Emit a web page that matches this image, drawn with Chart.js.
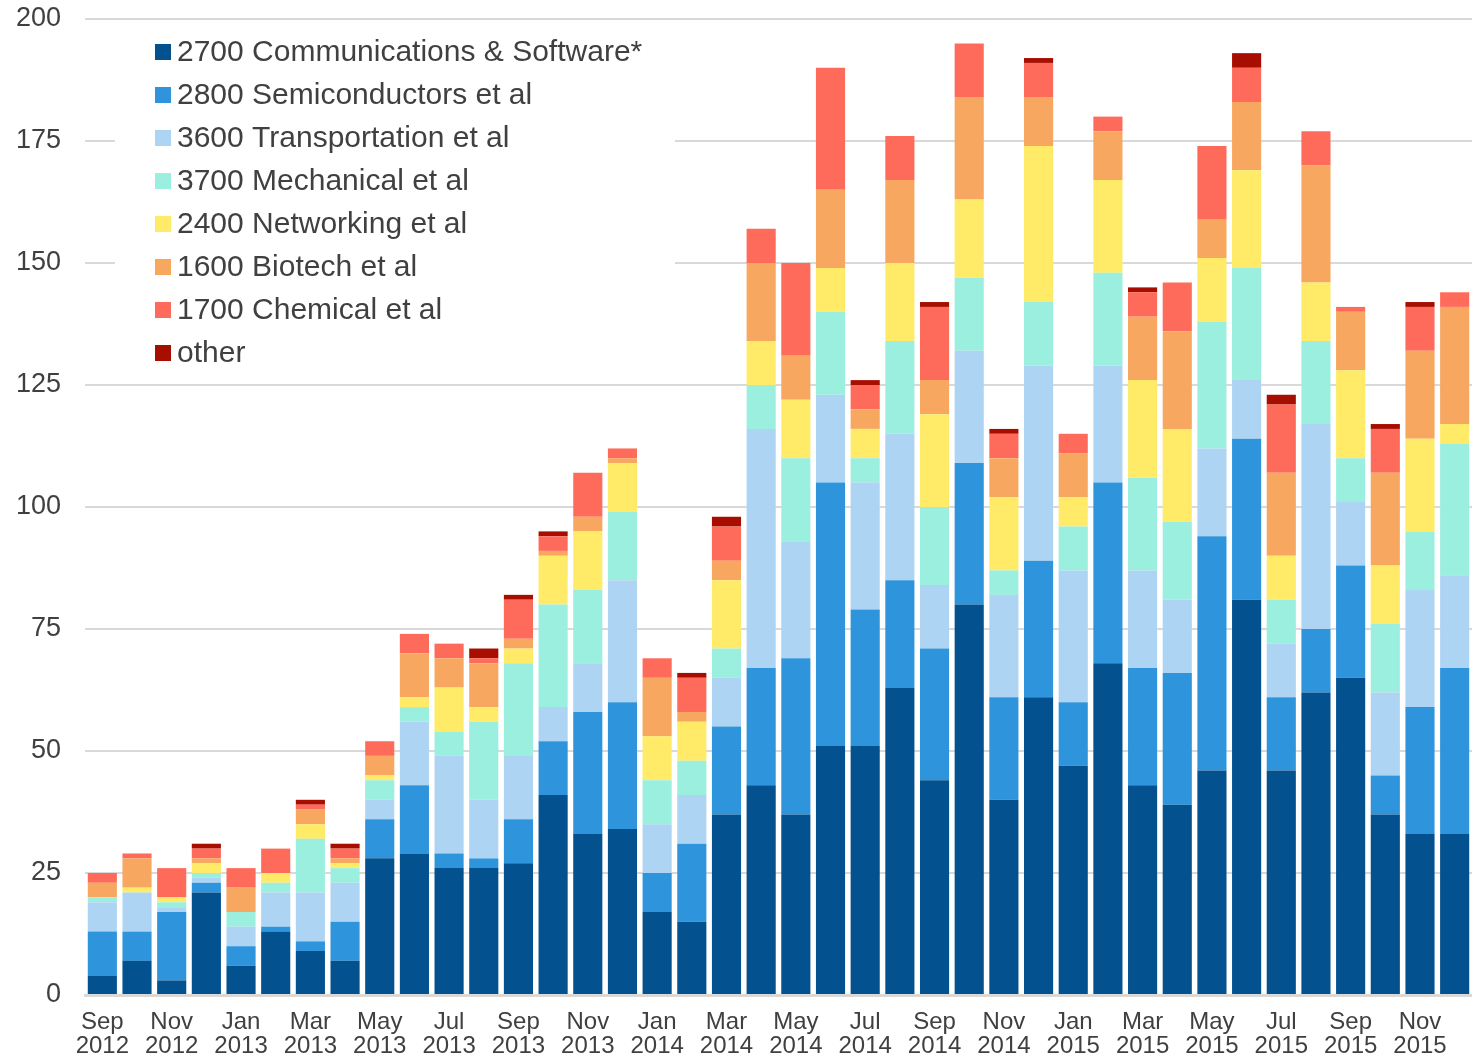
<!DOCTYPE html>
<html>
<head>
<meta charset="utf-8">
<title>Monthly counts by group</title>
<script src="https://cdn.jsdelivr.net/npm/chart.js@4.4.1/dist/chart.umd.min.js"></script>
<style>
  html, body { margin: 0; padding: 0; background: #fff; }
  #wrap { width: 1472px; height: 1055px; }
</style>
</head>
<body>
<div id="wrap"><canvas id="chart" width="1472" height="1055"></canvas></div>
<script>
// categories: one bar per month
const months = [
    'Sep 2012', 'Oct 2012', 'Nov 2012', 'Dec 2012',
    'Jan 2013', 'Feb 2013', 'Mar 2013', 'Apr 2013', 'May 2013', 'Jun 2013',
    'Jul 2013', 'Aug 2013', 'Sep 2013', 'Oct 2013', 'Nov 2013', 'Dec 2013',
    'Jan 2014', 'Feb 2014', 'Mar 2014', 'Apr 2014', 'May 2014', 'Jun 2014',
    'Jul 2014', 'Aug 2014', 'Sep 2014', 'Oct 2014', 'Nov 2014', 'Dec 2014',
    'Jan 2015', 'Feb 2015', 'Mar 2015', 'Apr 2015', 'May 2015', 'Jun 2015',
    'Jul 2015', 'Aug 2015', 'Sep 2015', 'Oct 2015', 'Nov 2015', 'Dec 2015'
];

// series values
const comm      = [4, 7, 3, 21, 6, 13, 9, 7, 28, 29, 26, 26, 27, 41, 33, 34, 17, 15, 37, 43, 37, 51, 51, 63, 44, 80, 40, 61, 47, 68, 43, 39, 46, 81, 46, 62, 65, 37, 33, 33];
const semi      = [9, 6, 14, 2, 4, 1, 2, 8, 8, 14, 3, 2, 9, 11, 25, 26, 8, 16, 18, 24, 32, 54, 28, 22, 27, 29, 21, 28, 13, 37, 24, 27, 48, 33, 15, 13, 23, 8, 26, 34];
const transport = [6, 8, 1, 1, 4, 7, 10, 8, 4, 13, 20, 12, 13, 7, 10, 25, 10, 10, 10, 49, 24, 18, 26, 30, 13, 23, 21, 40, 27, 24, 20, 15, 18, 12, 11, 42, 13, 17, 24, 19];
const mech      = [1, 0, 1, 1, 3, 2, 11, 3, 4, 3, 5, 16, 19, 21, 15, 14, 9, 7, 6, 9, 17, 17, 5, 19, 16, 15, 5, 13, 9, 19, 19, 16, 26, 23, 9, 17, 9, 14, 12, 27];
const network   = [0, 1, 1, 2, 0, 2, 3, 1, 1, 2, 9, 3, 3, 10, 12, 10, 9, 8, 14, 9, 12, 9, 6, 16, 19, 16, 15, 32, 6, 19, 20, 19, 13, 20, 9, 12, 18, 12, 19, 4];
const biotech   = [3, 6, 0, 1, 5, 0, 3, 1, 4, 9, 6, 9, 2, 1, 3, 1, 12, 2, 4, 16, 9, 16, 4, 17, 7, 21, 8, 10, 9, 10, 13, 20, 8, 14, 17, 24, 12, 19, 18, 24];
const chemical  = [2, 1, 6, 2, 4, 5, 1, 2, 3, 4, 3, 1, 8, 3, 9, 2, 4, 7, 7, 7, 19, 25, 5, 9, 15, 11, 5, 7, 4, 3, 5, 10, 15, 7, 14, 7, 1, 9, 9, 3];
const other     = [0, 0, 0, 1, 0, 0, 1, 1, 0, 0, 0, 2, 1, 1, 0, 0, 0, 1, 2, 0, 0, 0, 1, 0, 1, 0, 1, 1, 0, 0, 1, 0, 0, 3, 2, 0, 0, 1, 1, 0];

const seriesNames = [
    '2700 Communications & Software*',
    '2800 Semiconductors et al',
    '3600 Transportation et al',
    '3700 Mechanical et al',
    '2400 Networking et al',
    '1600 Biotech et al',
    '1700 Chemical et al',
    'other'
];
const seriesValues = [comm, semi, transport, mech, network, biotech, chemical, other];
const seriesColors = ['#03518e', '#2e95dd', '#aed4f3', '#9befdf', '#ffeb67', '#f7a75f', '#ff6b5b', '#a70e00'];

// y axis ticks
const yMin = 0, yMax = 200, yStep = 25;

const FONT = '"Liberation Sans", Arial, sans-serif';
const TEXT = '#404040';
const GRID = '#d9d9d9';

// legend sits inside the plot, on a white box that hides the gridlines
const boxLegend = {
    id: 'boxLegend',
    afterDraw(chart) {
        const { ctx, chartArea } = chart;
        const left = chartArea.left;
        ctx.save();
        ctx.fillStyle = '#fff';
        ctx.fillRect(left + 30, 28, 560, 346);
        ctx.font = '30px ' + FONT;
        ctx.textBaseline = 'middle';
        ctx.textAlign = 'left';
        chart.data.datasets.forEach((ds, i) => {
            const y = 52 + i * 43;
            ctx.fillStyle = ds.backgroundColor;
            ctx.fillRect(left + 70, y - 8, 16, 16);
            ctx.fillStyle = TEXT;
            ctx.fillText(ds.label, left + 92, y + 1);
        });
        ctx.restore();
    }
};

Chart.defaults.font.family = FONT;
Chart.defaults.color = TEXT;

const ctx = document.getElementById('chart').getContext('2d');
new Chart(ctx, {
    type: 'bar',
    data: {
        labels: months,
        datasets: seriesNames.map((name, i) => ({
            label: name,
            data: seriesValues[i],
            backgroundColor: seriesColors[i],
            borderWidth: 0,
            barPercentage: 0.84,
            categoryPercentage: 1.0
        }))
    },
    options: {
        responsive: false,
        animation: false,
        layout: { padding: { top: 19, right: 0, bottom: 0, left: 0 } },
        plugins: {
            legend: { display: false },
            tooltip: { enabled: false }
        },
        scales: {
            x: {
                stacked: true,
                grid: { display: false },
                border: { color: GRID, width: 3 },
                ticks: {
                    autoSkip: false,
                    maxRotation: 0,
                    minRotation: 0,
                    padding: 7,
                    color: TEXT,
                    font: { size: 24, lineHeight: 1.0 },
                    callback: (value, index) => index % 2 === 0 ? months[index].split(' ') : ''
                },
                afterFit: (scale) => { scale.height = 60; }
            },
            y: {
                stacked: true,
                min: yMin,
                max: yMax,
                border: { display: false },
                grid: { color: GRID, lineWidth: 2, drawTicks: false },
                ticks: {
                    stepSize: yStep,
                    padding: 24,
                    color: TEXT,
                    font: { size: 27 }
                },
                afterFit: (scale) => {
                    scale.width = 85;
                    // tick padding is horizontal only; don't let it push the plot down
                    scale.paddingTop = 0;
                    scale.paddingBottom = 0;
                }
            }
        }
    },
    plugins: [boxLegend]
});
</script>
</body>
</html>
